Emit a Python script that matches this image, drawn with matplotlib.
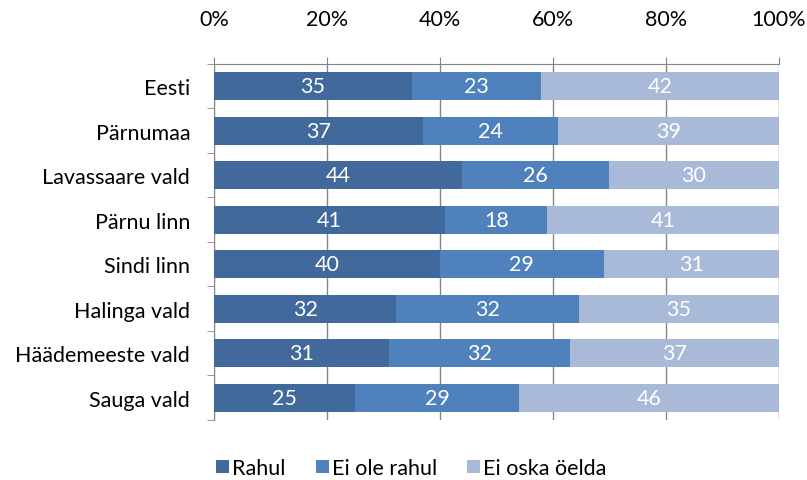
import numpy as np
import matplotlib
matplotlib.use('Agg')
import matplotlib.pyplot as plt
from matplotlib.ticker import PercentFormatter

plt.rcParams['font.family'] = ['Lato', 'DejaVu Sans']

categories = ['Eesti', 'Pärnumaa', 'Lavassaare vald', 'Pärnu linn',
              'Sindi linn', 'Halinga vald', 'Häädemeeste vald', 'Sauga vald']
rahul      = [35, 37, 44, 41, 40, 32, 31, 25]
ei_rahul   = [23, 24, 26, 18, 29, 32, 32, 29]
ei_oska    = [42, 39, 30, 41, 31, 35, 37, 46]
series_names = ['Rahul', 'Ei ole rahul', 'Ei oska öelda']
colors = ['#41699B', '#4F81BD', '#A9BAD8']

data = np.array([rahul, ei_rahul, ei_oska], dtype=float)
shares = data / data.sum(axis=0) * 100   # 100% stacked

fs = 15.5

fig = plt.figure(figsize=(8.07, 4.81), dpi=100)
ax = fig.add_axes([0.265, 0.125, 0.700, 0.740])

y = np.arange(len(categories))
left = np.zeros(len(categories))
for vals, raw, name, col in zip(shares, data, series_names, colors):
    ax.barh(y, vals, left=left, height=0.63, color=col, label=name, zorder=3)
    for yi, l, v, r in zip(y, left, vals, raw):
        ax.text(l + v / 2, yi, f'{int(r)}', ha='center', va='center',
                color='white', fontsize=fs, zorder=4)
    left += vals

ax.set_xlim(0, 100)
ax.set_ylim(len(categories) - 0.5, -0.5)
ax.xaxis.tick_top()
ax.xaxis.set_major_formatter(PercentFormatter(decimals=0))
ax.set_xticks(np.arange(0, 101, 20))
ax.tick_params(axis='x', length=5, color='#868686', labelsize=fs, pad=20)
ax.grid(axis='x', color='#868686', linewidth=1, zorder=0)

ax.set_yticks(y)
ax.set_yticklabels(categories)
ax.set_yticks(np.arange(-0.5, len(categories)), minor=True)
ax.tick_params(axis='y', which='major', length=0, labelsize=fs, pad=17)
ax.tick_params(axis='y', which='minor', length=5, color='#868686')

for s in ['right', 'bottom']:
    ax.spines[s].set_visible(False)
for s in ['left', 'top']:
    ax.spines[s].set_color('#868686')

ax.legend(loc='center', bbox_to_anchor=(0.35, -0.135), ncol=3,
          frameon=False, fontsize=fs, handlelength=0.6, handleheight=0.6,
          handletextpad=0.15, columnspacing=1.4, borderpad=0)

fig.savefig('out.png', dpi=100)
